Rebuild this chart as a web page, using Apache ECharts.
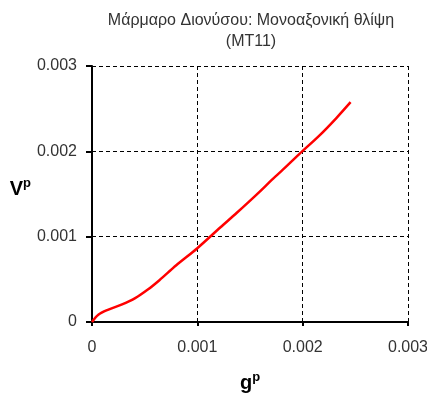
<!DOCTYPE html>
<html>
<head>
<meta charset="utf-8">
<script src="https://cdn.jsdelivr.net/npm/echarts@6/dist/echarts.min.js"></script>
<style>
  html, body { margin: 0; padding: 0; background: #fff; }
  #chart { width: 427px; height: 395px; }
</style>
</head>
<body>
<div id="chart"></div>
<script>
// plastic shear strain g^p vs plastic volumetric strain v^p
const gp = [0, 0.00006, 0.000156, 0.00028, 0.00041, 0.00053, 0.00064, 0.0008, 0.001, 0.00122, 0.001375, 0.00156, 0.00172, 0.0018, 0.00197, 0.002163, 0.00232, 0.002455]
const vp = [0, 0.000086, 0.000145, 0.000203, 0.00028, 0.00038, 0.00049, 0.000665, 0.000865, 0.00111, 0.00128, 0.00149, 0.00168, 0.00177, 0.00197, 0.00219, 0.00239, 0.002576]
const xTicks = [0, 0.001, 0.002, 0.003]
const yTicks = [0, 0.001, 0.002, 0.003]

const chart = echarts.init(document.getElementById('chart'))
const font = 'Liberation Sans, Arial, sans-serif'

const nameRich = {
  b: { fontFamily: font, fontSize: 20, fontWeight: 'bold', color: '#000' },
  s: { fontFamily: font, fontSize: 13, fontWeight: 'bold', color: '#000', padding: [0, 0, 12, 0] }
}

const option = {
  animation: false,
  title: {
    text: 'Μάρμαρο Διονύσου: Μονοαξονική θλίψη\n(MT11)',
    left: 246,
    top: 5,
    textAlign: 'center',
    textStyle: {
      fontFamily: font,
      fontSize: 16,
      fontWeight: 'normal',
      color: '#333',
      lineHeight: 21
    }
  },
  grid: {
    left: 92,
    right: 19,
    top: 66,
    bottom: 73,
    containLabel: false,
    outerBoundsMode: 'none'
  },
  xAxis: {
    type: 'value',
    min: xTicks[0],
    max: xTicks[xTicks.length - 1],
    interval: 0.001,
    name: '{b|g}{s|p}',
    nameLocation: 'middle',
    nameGap: 49,
    nameTextStyle: { rich: nameRich },
    axisLine: { show: true, onZero: false, lineStyle: { color: '#000', width: 2 } },
    axisTick: { show: true, inside: false, length: 4, lineStyle: { color: '#000', width: 2 } },
    axisLabel: {
      margin: 18,
      fontFamily: font,
      fontSize: 16,
      color: '#333',
      formatter: v => String(v)
    },
    splitLine: { show: true, lineStyle: { color: '#000', type: [4, 3], width: 1 } }
  },
  yAxis: {
    type: 'value',
    min: yTicks[0],
    max: yTicks[yTicks.length - 1],
    interval: 0.001,
    name: '{b|V}{s|p}',
    nameLocation: 'middle',
    nameGap: 57,
    nameRotate: 0,
    nameTextStyle: { rich: nameRich, padding: [0, 0, 10, 0] },
    axisLine: { show: true, onZero: false, lineStyle: { color: '#000', width: 2 } },
    axisTick: { show: true, inside: false, length: 6, lineStyle: { color: '#000', width: 2 } },
    axisLabel: {
      margin: 15,
      fontFamily: font,
      fontSize: 16,
      color: '#333',
      formatter: v => String(v)
    },
    splitLine: { show: true, lineStyle: { color: '#000', type: [4, 3], width: 1 } }
  },
  series: [
    {
      type: 'line',
      data: gp.map((x, i) => [x, vp[i]]),
      showSymbol: false,
      smooth: 0.3,
      lineStyle: { color: '#ff0000', width: 2.5 },
      itemStyle: { color: '#ff0000' }
    }
  ]
}

chart.setOption(option)
</script>
</body>
</html>
